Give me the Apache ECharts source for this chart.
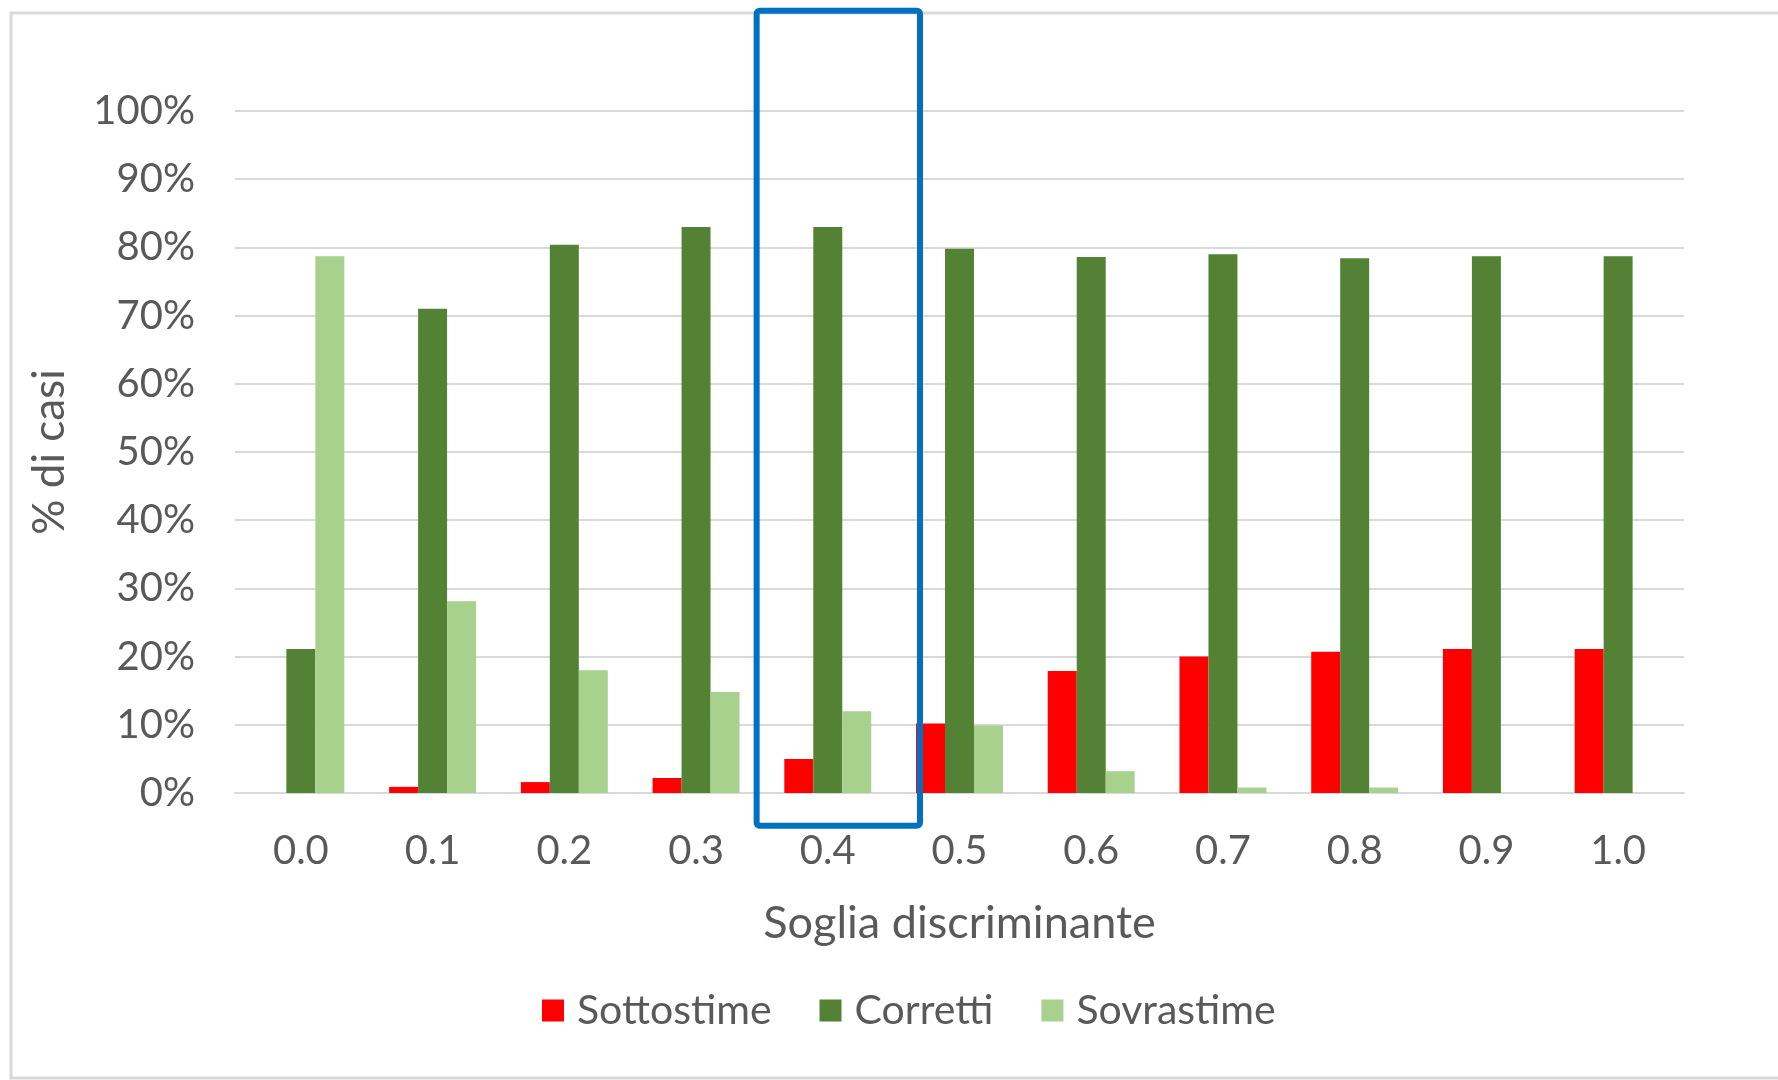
<!DOCTYPE html>
<html>
<head>
<meta charset="utf-8">
<script src="https://cdn.jsdelivr.net/npm/echarts@6/dist/echarts.min.js"></script>
<style>
  html, body { margin: 0; padding: 0; background: #ffffff; }
  #chart { width: 1778px; height: 1080px; }
</style>
</head>
<body>
<div id="chart"></div>
<script>
// Soglia discriminante (threshold) categories
const categories = ['0.0', '0.1', '0.2', '0.3', '0.4', '0.5', '0.6', '0.7', '0.8', '0.9', '1.0'];
// Share of cases (%) per outcome at each threshold
const sottostime = [0, 0.9, 1.6, 2.2, 5.0, 10.2, 17.9, 20.0, 20.7, 21.1, 21.1];
const corretti   = [21.1, 71.0, 80.4, 83.0, 83.0, 79.8, 78.6, 79.0, 78.4, 78.7, 78.7];
const sovrastime = [78.7, 28.1, 18.0, 14.8, 12.0, 9.9, 3.2, 0.8, 0.8, 0, 0];
// Highlighted threshold
const highlighted = '0.4';

const FONT = 'Lato, "Open Sans", sans-serif';
const TEXT = '#595959';
const GRID = '#D9D9D9';

const chart = echarts.init(document.getElementById('chart'));

const barStyle = color => ({ color: color });

chart.setOption({
  animation: false,
  textStyle: { fontFamily: FONT, color: TEXT },
  grid: { left: 235, right: 94, top: 111, bottom: 287 },
  legend: {
    left: 537,
    top: 985,
    itemWidth: 22,
    itemHeight: 22,
    itemGap: 48,
    icon: 'rect',
    textStyle: { fontFamily: FONT, fontSize: 41, color: TEXT, padding: [0, 0, 0, 8] },
    data: ['Sottostime', 'Corretti', 'Sovrastime']
  },
  xAxis: {
    type: 'category',
    data: categories,
    name: 'Soglia discriminante',
    nameLocation: 'middle',
    nameGap: 108,
    nameTextStyle: { fontFamily: FONT, fontSize: 45, color: TEXT },
    axisLine: { show: true, lineStyle: { color: GRID, width: 2 } },
    axisTick: { show: false },
    axisLabel: { fontFamily: FONT, fontSize: 40, color: TEXT, margin: 38 }
  },
  yAxis: {
    type: 'value',
    min: 0,
    max: 100,
    interval: 10,
    name: '% di casi',
    nameLocation: 'middle',
    nameRotate: 90,
    nameGap: 163,
    nameTextStyle: { fontFamily: FONT, fontSize: 44, color: TEXT },
    axisLine: { show: false },
    axisTick: { show: false },
    axisLabel: { fontFamily: FONT, fontSize: 40, color: TEXT, margin: 40, formatter: '{value}%' },
    splitLine: { show: true, lineStyle: { color: GRID, width: 2 } }
  },
  series: [
    { name: 'Sottostime', type: 'bar', data: sottostime, itemStyle: barStyle('#FF0000'),
      barGap: '0%', barCategoryGap: '34%' },
    { name: 'Corretti', type: 'bar', data: corretti, itemStyle: barStyle('#548235'),
      barGap: '0%', barCategoryGap: '34%' },
    { name: 'Sovrastime', type: 'bar', data: sovrastime, itemStyle: barStyle('#A9D18E'),
      barGap: '0%', barCategoryGap: '34%' }
  ]
});

// Frame around the chart area and the box that marks the chosen threshold
function drawOverlays() {
  const idx = categories.indexOf(highlighted);
  const cx = chart.convertToPixel({ xAxisIndex: 0 }, idx);
  const step = chart.convertToPixel({ xAxisIndex: 0 }, 1) - chart.convertToPixel({ xAxisIndex: 0 }, 0);
  const yTop = chart.convertToPixel({ yAxisIndex: 0 }, 114.7);
  const yBot = chart.convertToPixel({ yAxisIndex: 0 }, -4.8);
  const x0 = cx - step * 0.54;
  const x1 = cx + step * 0.70;
  chart.setOption({
    graphic: [
      {
        type: 'rect', silent: true, z: -1,
        shape: { x: 11, y: 13, width: 1800, height: 1065 },
        style: { fill: 'none', stroke: '#D9D9D9', lineWidth: 3 }
      },
      {
        type: 'rect', silent: true, z: 10,
        shape: { x: x0, y: yTop, width: x1 - x0, height: yBot - yTop, r: 3 },
        style: { fill: 'none', stroke: '#0070C0', lineWidth: 6 }
      }
    ]
  });
}
drawOverlays();
</script>
</body>
</html>
